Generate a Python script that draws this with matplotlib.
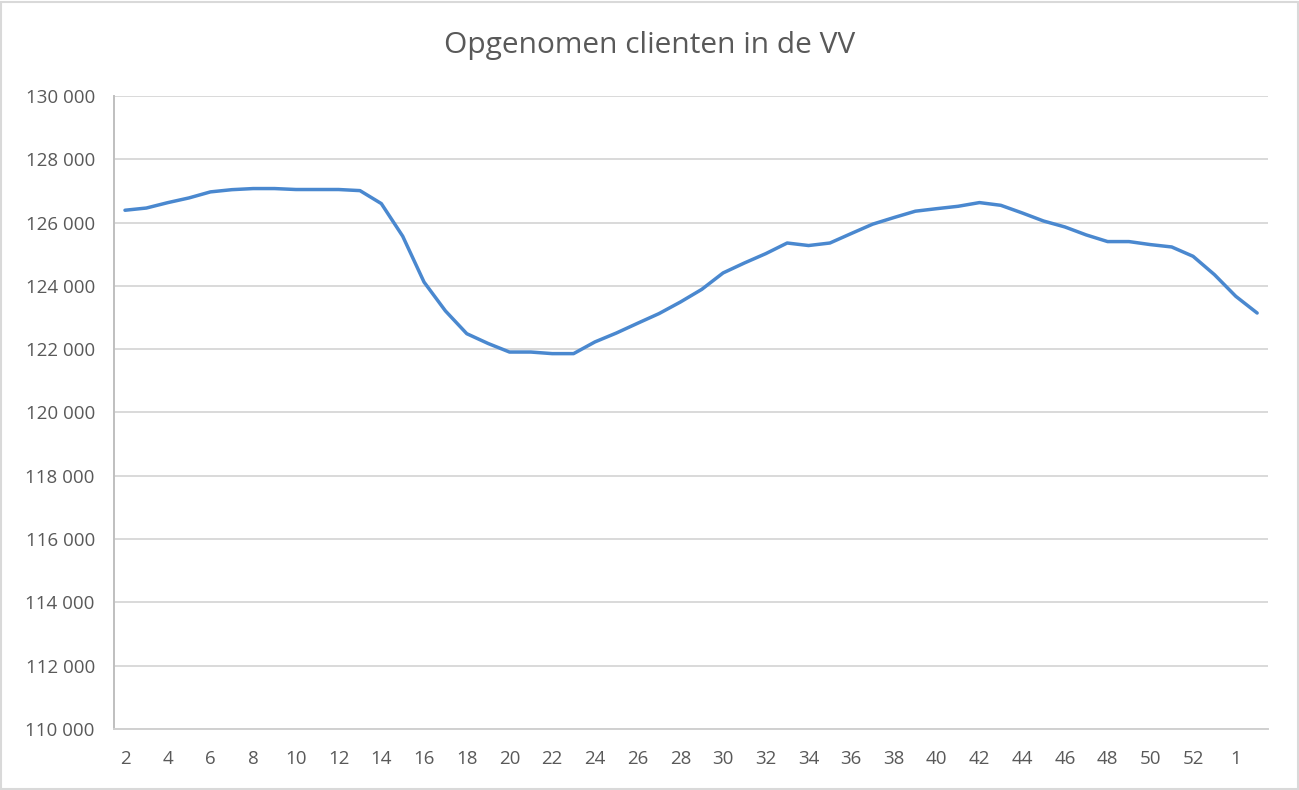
import matplotlib.pyplot as plt
from matplotlib.patches import Rectangle
from matplotlib.ticker import FuncFormatter

# week numbers (2020 has 53 weeks, then into 2021)
weeks = list(range(2, 54)) + [1, 2]
clients = [
    126390, 126460, 126630, 126780, 126970, 127040, 127075, 127075, 127045, 127045,
    127045, 127010, 126600, 125570, 124120, 123210, 122490, 122180, 121910, 121910,
    121860, 121860, 122230, 122510, 122820, 123125, 123490, 123890, 124410, 124725,
    125020, 125355, 125275, 125355, 125655, 125950, 126160, 126360, 126440, 126515,
    126632, 126546, 126305, 126050, 125862, 125610, 125400, 125400, 125305, 125230,
    124935, 124356, 123671, 123143,
]
title = "Opgenomen clienten in de VV"

plt.rcParams['font.family'] = ['Open Sans', 'DejaVu Sans']

fig = plt.figure(figsize=(12.99, 7.9), dpi=100)
ax = fig.add_axes([0.088, 0.0772, 0.888, 0.8013])

x = list(range(len(clients)))
ax.plot(x, clients, color='#4a88cf', linewidth=2.5, solid_capstyle='round')

ax.set_ylim(110000, 130000)
ax.set_yticks(range(110000, 130001, 2000))
ax.yaxis.set_major_formatter(FuncFormatter(lambda v, p: f"{int(v):,}".replace(",", " ")))
ax.set_xlim(-0.5, len(clients) - 0.5)
ax.set_xticks(x[::2])
ax.set_xticklabels([str(w) for w in weeks[::2]])

ax.grid(axis='y', color='#d9d9d9', linewidth=1.4)
ax.set_axisbelow(True)
for side in ['top', 'right']:
    ax.spines[side].set_visible(False)
ax.spines['left'].set_color('#bfbfbf')
ax.spines['bottom'].set_color('#d0d0d0')
ax.spines['left'].set_linewidth(1.4)
ax.spines['bottom'].set_linewidth(1.4)
ax.tick_params(length=0, labelsize=13.5, colors='#595959', pad=14)
ax.tick_params(axis='x', pad=15)

fig.text(0.5, 0.942, title, ha='center', va='center', fontsize=21.5, color='#595959')

fig.patches.append(Rectangle((0.001, 0.001), 0.998, 0.997, transform=fig.transFigure,
                             fill=False, edgecolor='#d9d9d9', linewidth=1.5))

fig.savefig('out.png', dpi=100, facecolor='white')
